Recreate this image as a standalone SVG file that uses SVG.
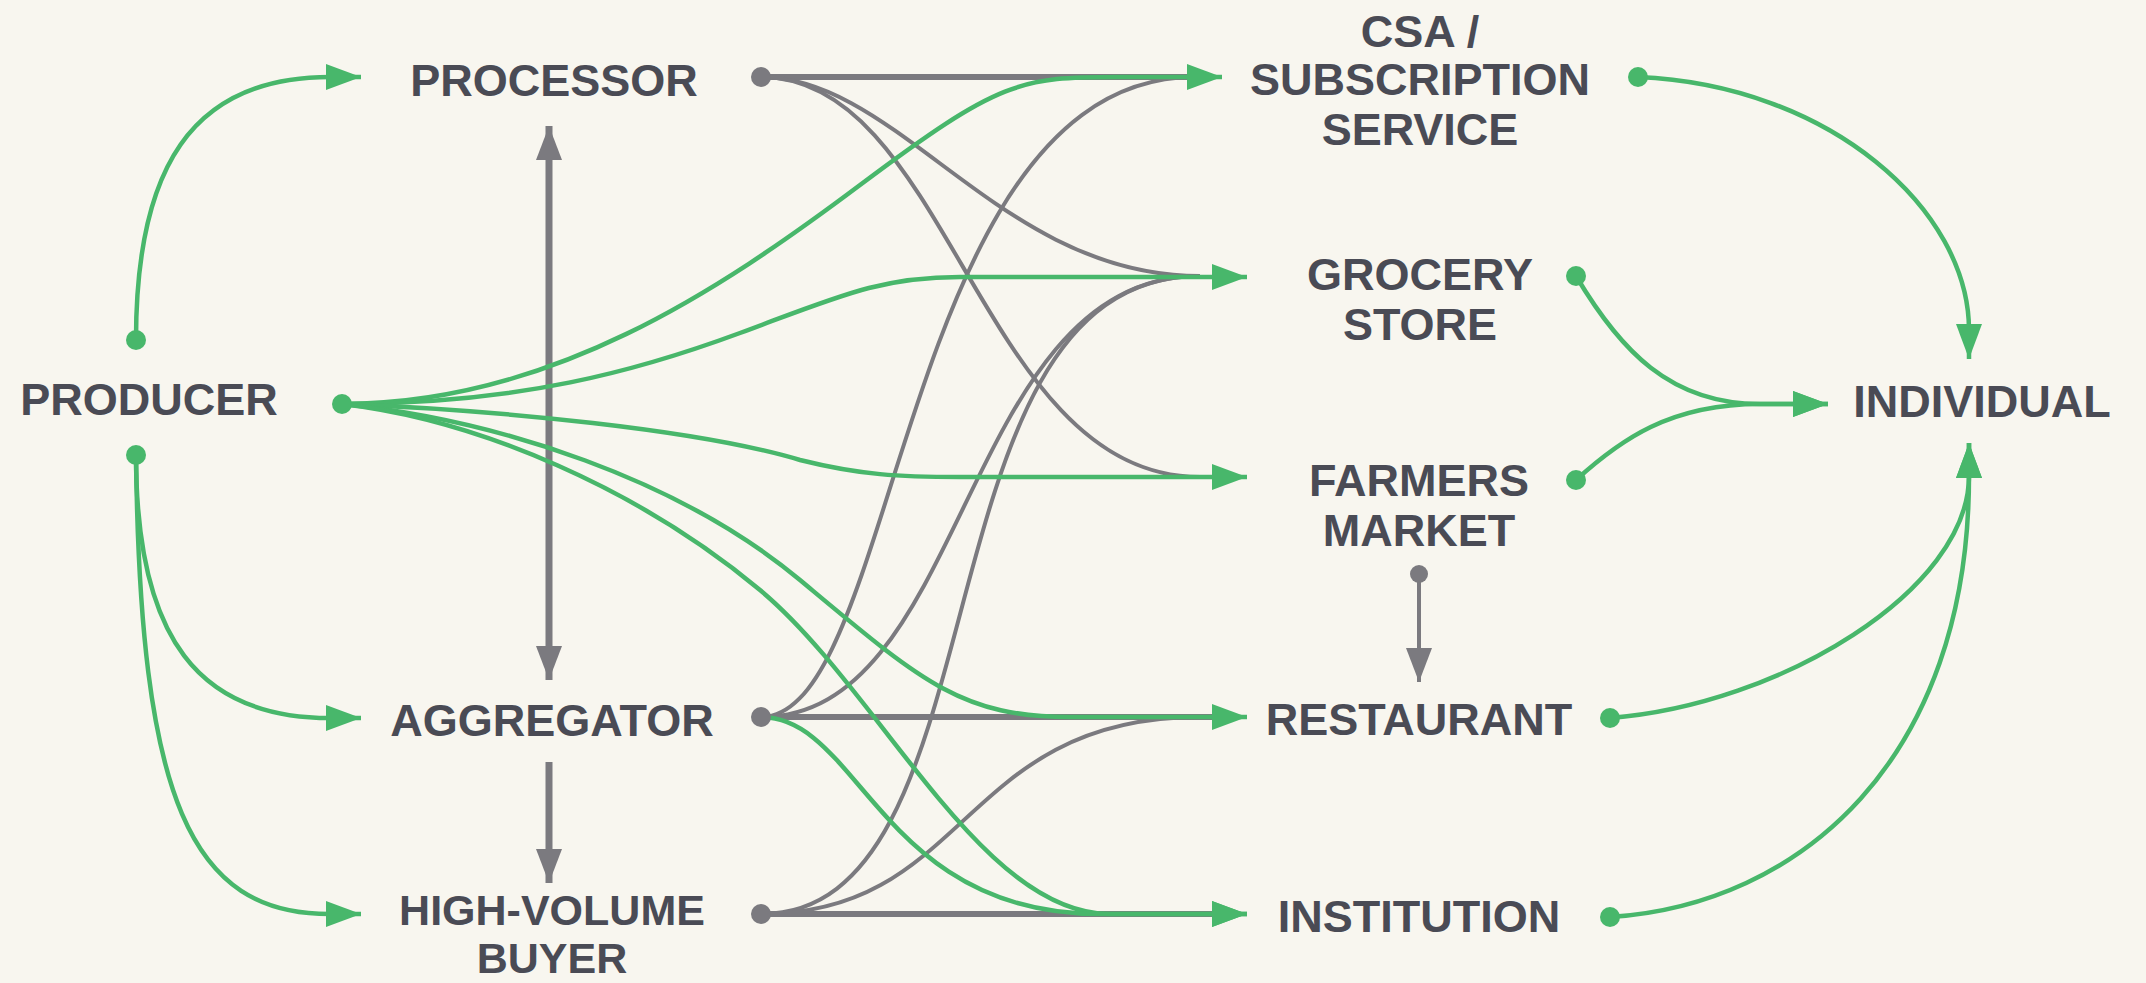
<svg xmlns="http://www.w3.org/2000/svg" width="2146" height="983" viewBox="0 0 2146 983">
<style>
.bg{fill:#f8f6ef}
.lbl{font-family:"Liberation Sans",Arial,sans-serif;font-weight:700;font-size:45px;fill:#4a4b55;text-anchor:middle}
.sm{font-size:43px}
.gc{fill:none;stroke:#7b7a7f;stroke-width:4}
.gs{fill:none;stroke:#7b7a7f;stroke-width:6}
.gv{fill:none;stroke:#7b7a7f;stroke-width:7}
.gr{fill:none;stroke:#48b76b;stroke-width:4.5}
.dg{fill:#48b76b}
.dy{fill:#7b7a7f}
</style>
<defs>
<marker id="ag" markerUnits="userSpaceOnUse" markerWidth="36" markerHeight="26" refX="35" refY="13" orient="auto" overflow="visible">
<path d="M0,0 L35,13 L0,26 z" fill="#48b76b"/>
</marker>
<marker id="ay" markerUnits="userSpaceOnUse" markerWidth="35" markerHeight="26" refX="34" refY="13" orient="auto-start-reverse" overflow="visible">
<path d="M0,0 L34,13 L0,26 z" fill="#7b7a7f"/>
</marker>
</defs>
<rect class="bg" x="0" y="0" width="2146" height="983"/>

<g id="connectors">
<g id="gray-connectors">
<path class="gs" d="M761,77 L1195,77"/>
<path class="gc" d="M761,77 C900,77 1000,276 1200,276"/>
<path class="gc" d="M761,77 C950,77 980,477 1200,477"/>
<path class="gc" d="M761,717 C900,717 900,77 1195,77"/>
<path class="gc" d="M761,717 C970,717 960,276 1200,276"/>
<path class="gs" d="M761,717 L1215,717"/>
<path class="gc" d="M761,914 C1010,914 910,276 1200,276"/>
<path class="gc" d="M761,914 C970,914 960,717 1200,717"/>
<path class="gs" d="M761,914 L1215,914"/>
<path class="gv" d="M549,126 L549,680" marker-start="url(#ay)" marker-end="url(#ay)"/>
<path class="gv" d="M549,762 L549,883" marker-end="url(#ay)"/>
<path class="gc" d="M1419,574 L1419,682" marker-end="url(#ay)"/>
</g>
<g id="green-connectors">
<path class="gr" d="M136,340 C136,170 190,77 330,77 L361,77" marker-end="url(#ag)"/>
<path class="gr" d="M136,455 C136,640 200,718 330,718 L361,718" marker-end="url(#ag)"/>
<path class="gr" d="M136,455 C140,800 190,914 330,914 L361,914" marker-end="url(#ag)"/>
<path class="gr" d="M342,404 C550,404 720,290 860,185 S1020,77 1120,77 L1222,77" marker-end="url(#ag)"/>
<path class="gr" d="M342,404 C520,404 640,370 740,333 S880,277 960,277 L1247,277" marker-end="url(#ag)"/>
<path class="gr" d="M342,404 C500,410 700,430 800,460 C860,475 900,477 960,477 L1247,477" marker-end="url(#ag)"/>
<path class="gr" d="M342,404 C500,420 680,480 800,580 S960,717 1070,717 L1247,717" marker-end="url(#ag)"/>
<path class="gr" d="M342,404 C480,420 640,490 760,590 S980,914 1110,914 L1247,914" marker-end="url(#ag)"/>
<path class="gr" d="M761,717 C860,717 880,914 1100,914 L1247,914" marker-end="url(#ag)"/>
<path class="gr" d="M1638,77 C1830,85 1969,210 1969,330 L1969,359" marker-end="url(#ag)"/>
<path class="gr" d="M1576,276 C1620,350 1670,404 1760,404 L1828,404" marker-end="url(#ag)"/>
<path class="gr" d="M1576,480 C1620,440 1670,404 1760,404 L1828,404" marker-end="url(#ag)"/>
<path class="gr" d="M1610,718 C1780,705 1969,590 1969,476 L1969,443" marker-end="url(#ag)"/>
<path class="gr" d="M1610,917 C1800,905 1969,760 1969,476 L1969,443" marker-end="url(#ag)"/>
</g>
</g>

<g id="producer">
<text class="lbl" x="149" y="415">PRODUCER</text>
<circle class="dg" cx="136" cy="340" r="10"/>
<circle class="dg" cx="342" cy="404" r="10"/>
<circle class="dg" cx="136" cy="455" r="10"/>
</g>
<g id="processor">
<text class="lbl" x="554" y="96">PROCESSOR</text>
<circle class="dy" cx="761" cy="77" r="10"/>
</g>
<g id="aggregator">
<text class="lbl" x="552" y="736">AGGREGATOR</text>
<circle class="dy" cx="761" cy="717" r="10"/>
</g>
<g id="high-volume-buyer">
<text class="lbl sm" x="552" y="925">HIGH-VOLUME</text>
<text class="lbl sm" x="552" y="973">BUYER</text>
<circle class="dy" cx="761" cy="914" r="10"/>
</g>
<g id="csa">
<text class="lbl" x="1420" y="47">CSA /</text>
<text class="lbl" x="1420" y="95">SUBSCRIPTION</text>
<text class="lbl" x="1420" y="145">SERVICE</text>
<circle class="dg" cx="1638" cy="77" r="10"/>
</g>
<g id="grocery-store">
<text class="lbl" x="1420" y="290">GROCERY</text>
<text class="lbl" x="1420" y="340">STORE</text>
<circle class="dg" cx="1576" cy="276" r="10"/>
</g>
<g id="farmers-market">
<text class="lbl" x="1419" y="496">FARMERS</text>
<text class="lbl" x="1419" y="546">MARKET</text>
<circle class="dg" cx="1576" cy="480" r="10"/>
<circle class="dy" cx="1419" cy="574" r="9"/>
</g>
<g id="restaurant">
<text class="lbl" x="1419" y="735">RESTAURANT</text>
<circle class="dg" cx="1610" cy="718" r="10"/>
</g>
<g id="institution">
<text class="lbl" x="1419" y="932">INSTITUTION</text>
<circle class="dg" cx="1610" cy="917" r="10"/>
</g>
<g id="individual">
<text class="lbl" x="1982" y="417">INDIVIDUAL</text>
</g>
</svg>
